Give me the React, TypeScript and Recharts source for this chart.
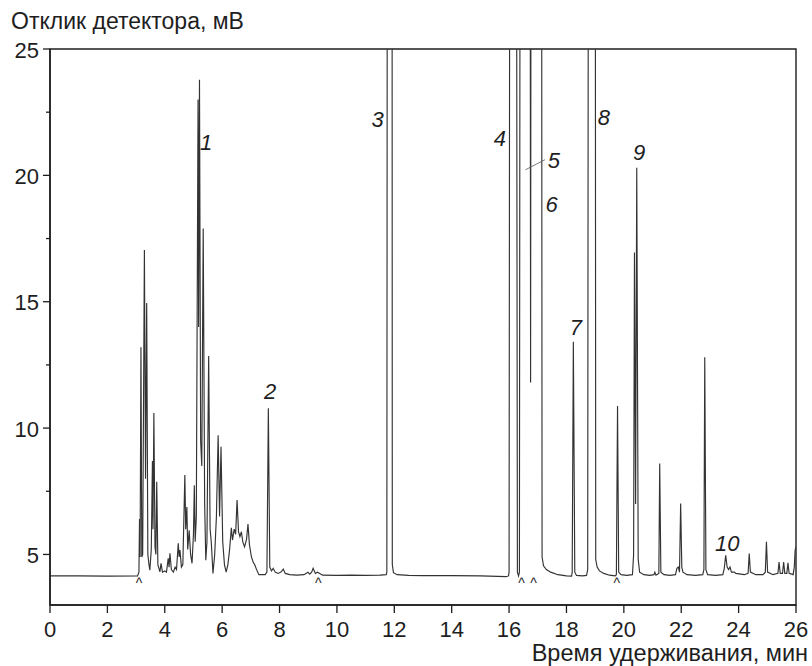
import React from 'react';
import {
  ComposedChart,
  Line,
  Scatter,
  XAxis,
  YAxis,
  ReferenceArea,
  ReferenceLine,
} from 'recharts';

// retention time (min), detector response (mV); values above 25 are off scale
const leadBaseline: [number, number][] = [
  [0, 4.15], [1, 4.15], [2, 4.14], [3.05, 4.15],
];

const earlyCluster: [number, number][] = [
  [3.1, 4.3], [3.12, 6.4], [3.14, 4.9], [3.17, 13.2], [3.2, 4.9], [3.23, 5.0],
  [3.29, 17.05], [3.33, 8.0], [3.37, 14.95], [3.41, 5.0], [3.45, 4.6], [3.48, 4.38],
  [3.53, 5.2], [3.57, 8.7], [3.59, 6.0], [3.62, 10.6], [3.66, 5.3], [3.69, 5.0],
  [3.72, 7.88], [3.76, 4.6], [3.83, 4.31], [3.87, 4.65], [3.92, 4.3], [4.0, 4.35],
  [4.06, 4.3], [4.12, 4.85], [4.15, 4.5], [4.18, 5.05], [4.23, 4.4], [4.3, 4.3],
  [4.36, 4.5], [4.41, 4.4], [4.47, 5.44], [4.5, 4.9], [4.53, 5.17], [4.58, 4.5],
  [4.63, 4.6], [4.7, 8.14], [4.73, 6.0], [4.77, 6.88], [4.8, 5.2], [4.85, 5.96],
  [4.9, 5.0], [4.95, 4.65], [5.0, 5.8], [5.03, 7.74], [5.06, 5.5], [5.1, 6.5],
  [5.16, 23.0], [5.18, 14.0], [5.21, 23.78], [5.25, 9.5], [5.29, 8.5], [5.34, 17.9],
  [5.39, 7.0], [5.43, 4.77], [5.47, 5.5], [5.53, 12.85], [5.58, 6.0], [5.62, 5.5],
  [5.68, 4.25], [5.74, 5.0], [5.8, 6.5], [5.86, 9.72], [5.91, 6.5], [5.96, 9.26],
  [6.02, 5.5], [6.08, 4.6], [6.14, 4.3], [6.2, 4.6], [6.26, 5.2], [6.32, 6.05],
  [6.36, 5.57], [6.42, 6.0], [6.47, 5.8], [6.52, 7.15], [6.57, 5.9], [6.62, 5.7],
  [6.67, 5.9], [6.72, 5.5], [6.78, 5.3], [6.85, 5.6], [6.9, 6.2], [6.95, 5.4],
  [7.02, 4.9], [7.08, 4.7], [7.14, 4.58], [7.2, 4.4], [7.28, 4.2], [7.4, 4.2],
];

const midSection: [number, number][] = [
  [7.5, 4.2], [7.56, 4.3], [7.61, 10.78], [7.66, 4.5], [7.72, 4.35], [7.78, 4.45],
  [7.85, 4.3], [7.95, 4.25], [8.05, 4.3], [8.13, 4.42], [8.2, 4.25], [8.35, 4.2],
  [8.6, 4.18], [8.85, 4.2], [8.99, 4.3], [9.05, 4.22], [9.12, 4.3], [9.17, 4.45],
  [9.25, 4.25], [9.32, 4.3], [9.4, 4.25], [9.5, 4.18], [10, 4.17], [10.5, 4.18],
  [11, 4.17], [11.5, 4.18], [11.72, 4.2],
  [11.74, 4.3], [11.76, 40], [11.92, 40], [11.93, 4.6], [11.97, 4.28], [12.1, 4.2],
  [12.5, 4.17], [13, 4.16], [14, 4.16], [15, 4.15], [15.9, 4.12], [15.98, 4.15],
];

const mainPeaks: [number, number][] = [
  [16.0, 4.3], [16.03, 40], [16.25, 40], [16.29, 4.3], [16.33, 4.15], [16.36, 4.3],
  [16.39, 40], [16.73, 40], [16.75, 11.8], [16.77, 40], [17.13, 40], [17.15, 4.9],
  [17.2, 4.55], [17.3, 4.4], [17.45, 4.3], [17.7, 4.2], [18.0, 4.15], [18.18, 4.14],
  [18.2, 4.3], [18.24, 13.42], [18.29, 4.3], [18.35, 4.17], [18.55, 4.15], [18.7, 4.17],
  [18.74, 4.4], [18.77, 40], [19.0, 40], [19.02, 4.8], [19.07, 4.5], [19.15, 4.35],
  [19.3, 4.25], [19.5, 4.18], [19.7, 4.15],
];

const latePeaks: [number, number][] = [
  [19.74, 4.2], [19.78, 10.87], [19.82, 4.3], [19.9, 4.2], [20.1, 4.17], [20.3, 4.2],
  [20.34, 5.0], [20.37, 16.95], [20.41, 7.0], [20.45, 20.3], [20.5, 4.8], [20.55, 4.3],
  [20.7, 4.2], [20.9, 4.17], [21.05, 4.2], [21.08, 4.3], [21.12, 4.18], [21.22, 4.25],
  [21.25, 8.6], [21.29, 4.3], [21.4, 4.2], [21.6, 4.17], [21.8, 4.2], [21.85, 4.45],
  [21.9, 4.5], [21.94, 4.3], [21.98, 7.02], [22.02, 4.5], [22.06, 4.3], [22.2, 4.2],
  [22.5, 4.17], [22.75, 4.2], [22.79, 4.4], [22.82, 12.8], [22.86, 4.4], [22.92, 4.2],
  [23.2, 4.17], [23.45, 4.2], [23.5, 4.45], [23.55, 4.97], [23.6, 4.5], [23.65, 4.4],
  [23.7, 4.5], [23.75, 4.3], [23.85, 4.3], [23.9, 4.25], [24.2, 4.2], [24.33, 4.25],
  [24.37, 5.04], [24.41, 4.3], [24.6, 4.2], [24.85, 4.2], [24.93, 4.3], [24.97, 5.5],
  [25.01, 4.3], [25.2, 4.2], [25.37, 4.25], [25.41, 4.7], [25.45, 4.25], [25.53, 4.25],
  [25.57, 4.7], [25.61, 4.25], [25.68, 4.25], [25.72, 4.67], [25.76, 4.25], [25.9, 4.2],
  [25.94, 4.5], [25.97, 5.17], [26, 5.3],
];

// peak numbers and where they sit (min, mV)
const peakLabels: [string, number, number][] = [
  ['1', 5.44, 21.3], ['2', 7.67, 11.44], ['3', 11.42, 22.2], ['4', 15.68, 21.47],
  ['5', 17.56, 20.58], ['6', 17.48, 18.83], ['7', 18.33, 13.97], ['8', 19.3, 22.27],
  ['9', 20.53, 20.9], ['10', 23.6, 5.44],
];

// integration marks under the baseline
const markTimes = [3.1, 9.35, 16.43, 16.85, 19.75];

const xTicks = [0, 2, 4, 6, 8, 10, 12, 14, 16, 18, 20, 22, 24, 26];
const yTicks = [5, 7.5, 10, 12.5, 15, 17.5, 20, 22.5, 25];

const trace = [...leadBaseline, ...earlyCluster, ...midSection, ...mainPeaks, ...latePeaks]
  .map(([t, v]) => ({ t, v }));
const labelData = peakLabels.map(([text, t, v]) => ({ text, t, v }));
const markData = markTimes.map((t) => ({ t, v: 3.67 }));

const FONT = '"Liberation Sans", Arial, sans-serif';
const INK = '#1e1e1e';

const YTick = (props: any) => {
  const { x, y, payload } = props;
  const major = payload.value % 5 === 0;
  return (
    <g>
      <line x1={x - (major ? 7 : 4)} x2={x} y1={y} y2={y} stroke={INK} strokeWidth={1.3} />
      {major && (
        <text x={x - 11} y={y + 1} textAnchor="end" dominantBaseline="central"
          fontSize={22} fill={INK} fontFamily={FONT}>
          {payload.value}
        </text>
      )}
    </g>
  );
};

const PeakText = (props: any) => (
  <text x={props.cx} y={props.cy} textAnchor="middle" dominantBaseline="central"
    fontSize={22} fontStyle="italic" fill={INK} fontFamily={FONT}>
    {props.payload.text}
  </text>
);

const Caret = (props: any) => (
  <text x={props.cx} y={props.cy} textAnchor="middle" fontSize={14} fill={INK} fontFamily={FONT}>
    ^
  </text>
);

const App: React.FC = () => {
  return (
    <div style={{ position: 'absolute', left: 0, top: 0, width: 812, height: 666, background: '#fff', fontFamily: FONT }}>
      <div style={{ position: 'absolute', left: 11, top: 8, fontSize: 23, color: INK }}>
        Отклик детектора, мВ
      </div>
      <div style={{ position: 'absolute', right: 4, top: 640, fontSize: 23.5, color: INK }}>
        Время удерживания, мин
      </div>
      <ComposedChart width={812} height={666} margin={{ top: 49, right: 16, left: 0, bottom: 0 }}>
        <XAxis
          type="number"
          dataKey="t"
          domain={[0, 26]}
          ticks={xTicks}
          allowDataOverflow
          height={61}
          tickSize={8}
          tickMargin={8}
          axisLine={{ stroke: INK, strokeWidth: 1.5 }}
          tickLine={{ stroke: INK, strokeWidth: 1.3 }}
          tick={{ fontSize: 22, fill: INK, fontFamily: FONT }}
        />
        <YAxis
          type="number"
          dataKey="v"
          domain={[3, 25]}
          ticks={yTicks}
          allowDataOverflow
          width={50}
          tickSize={0}
          tickMargin={0}
          axisLine={{ stroke: INK, strokeWidth: 1.5 }}
          tickLine={false}
          tick={<YTick />}
        />
        <ReferenceArea x1={0} x2={26} y1={3} y2={25} fill="none" stroke={INK} strokeWidth={1.4} fillOpacity={0} />
        <Line
          data={trace}
          dataKey="v"
          type="linear"
          stroke="#333"
          strokeWidth={1.15}
          dot={false}
          activeDot={false}
          isAnimationActive={false}
        />
        <ReferenceLine
          segment={[{ x: 16.57, y: 20.22 }, { x: 17.25, y: 20.62 }]}
          stroke="#555"
          strokeWidth={0.8}
        />
        <Scatter data={labelData} dataKey="v" shape={<PeakText />} isAnimationActive={false} />
        <Scatter data={markData} dataKey="v" shape={<Caret />} isAnimationActive={false} />
      </ComposedChart>
    </div>
  );
};

export default App;
